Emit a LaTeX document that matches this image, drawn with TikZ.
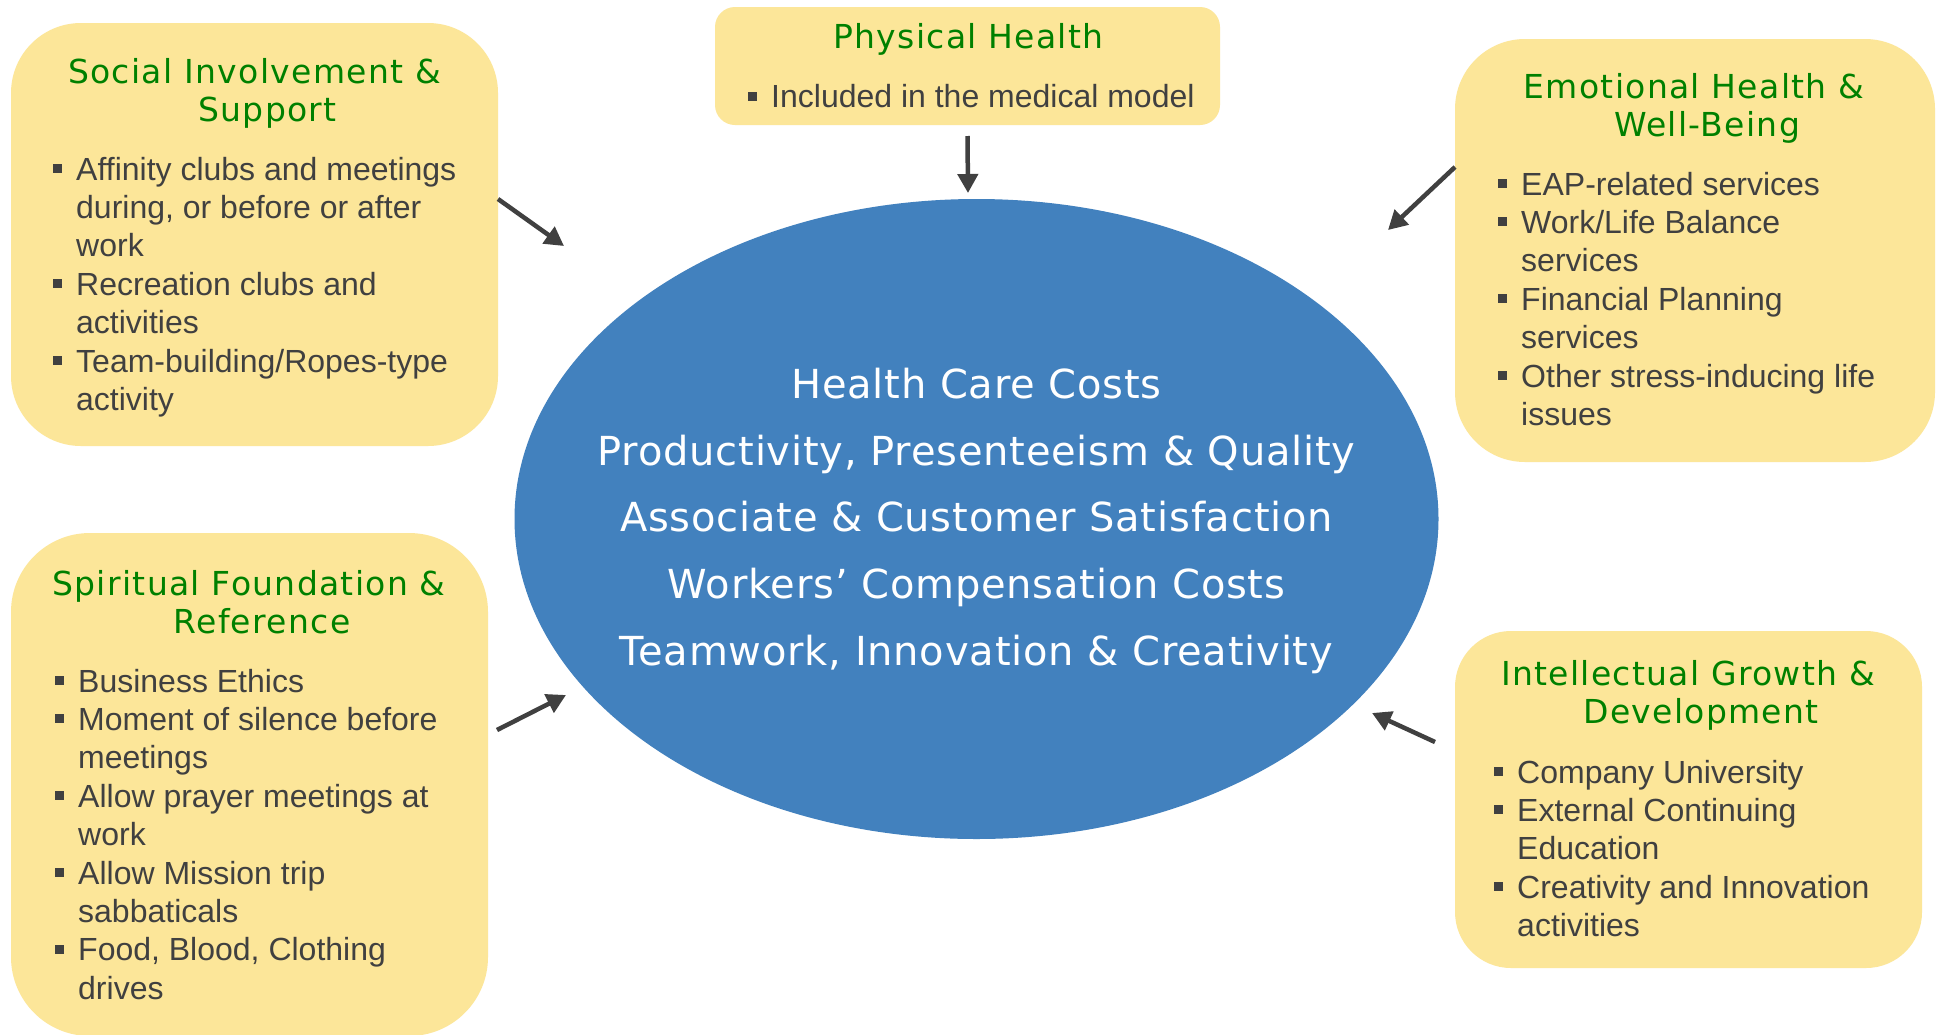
\documentclass[tikz,border=0pt]{standalone}
\usepackage{fontspec}
\usetikzlibrary{arrows.meta,shapes.geometric,calc}
\newfontfamily\bodyfont{Liberation Sans}
\newfontfamily\headfont{DejaVu Sans}[LetterSpace=4.0]
\newfontfamily\corefont{DejaVu Sans}[LetterSpace=2.0]
\definecolor{boxfill}{RGB}{252,230,153}
\definecolor{coreblue}{RGB}{66,129,190}
\definecolor{headgreen}{RGB}{0,128,0}
\definecolor{inkgrey}{RGB}{64,64,64}
% square bullet hung to the left of an item line
\newcommand\sqbul{\llap{\rule[7pt]{9pt}{9pt}\hspace{14pt}}}
% second heading line sits a little right of centre
\newcommand\wrapln{\\\hspace*{26pt}}
% multi-line nodes sit on the baseline of their last line
\tikzset{
  panel/.style={fill=boxfill, draw=none, inner sep=0pt, outer sep=0pt},
  heading/.style={anchor=base, align=center, text=headgreen, inner sep=0pt,
    font={\headfont\fontsize{33}{38}\selectfont}},
  items/.style={anchor=base west, align=left, text=inkgrey, inner sep=0pt,
    font={\bodyfont\fontsize{32}{38.4}\selectfont}},
  flow/.style={draw=inkgrey, line width=4.5pt,
    -{Triangle[length=19pt,width=20pt]}},
}
\begin{document}
\begin{tikzpicture}[x=1pt,y=-1pt]
\useasboundingbox (0,0) rectangle (1940,1034);
\clip (0,0) rectangle (1940,1034);
\fill[white] (0,0) rectangle (1940,1034);

% outcome ellipse
\node[ellipse, fill=coreblue, inner sep=0pt, minimum width=924pt, minimum height=640pt] (core) at (976.5,519) {};
\node[anchor=base, align=center, text=white, inner sep=0pt,
      font={\corefont\fontsize{40}{66.8}\selectfont}] (coretxt) at (976.5,665.5)
  {Health Care Costs\\
   Productivity, Presenteeism \& Quality\\
   Associate \& Customer Satisfaction\\
   Workers’ Compensation Costs\\
   Teamwork, Innovation \& Creativity};

% Social Involvement & Support
\node[panel, minimum width=487pt, minimum height=423pt, rounded corners=70pt] (soc) at (254.5,234.5) {};
\node[heading] (soch) at (254.5,121) {Social Involvement \&\wrapln Support};
\node[items] (socl) at (76,410.4)
  {\sqbul Affinity clubs and meetings\\
   during, or before or after\\
   work\\
   \sqbul Recreation clubs and\\
   activities\\
   \sqbul Team-building/Ropes-type\\
   activity};

% Physical Health
\node[panel, minimum width=505pt, minimum height=118pt, rounded corners=20pt] (phys) at (967.5,66) {};
\node[heading] (physh) at (968.5,48.5) {Physical Health};
\node[items] (physl) at (771,107.5) {\sqbul Included in the medical model};

% Emotional Health & Well-Being
\node[panel, minimum width=480pt, minimum height=423pt, rounded corners=70pt] (emo) at (1695,250.5) {};
\node[heading] (emoh) at (1694,136) {Emotional Health \&\wrapln Well-Being};
\node[items] (emol) at (1521,425.4)
  {\sqbul EAP-related services\\
   \sqbul Work/Life Balance\\
   services\\
   \sqbul Financial Planning\\
   services\\
   \sqbul Other stress-inducing life\\
   issues};

% Spiritual Foundation & Reference
\node[panel, minimum width=477pt, minimum height=503pt, rounded corners=79pt] (spi) at (249.5,784.5) {};
\node[heading] (spih) at (249,633) {Spiritual Foundation \&\wrapln Reference};
\node[items] (spil) at (78,999.2)
  {\sqbul Business Ethics\\
   \sqbul Moment of silence before\\
   meetings\\
   \sqbul Allow prayer meetings at\\
   work\\
   \sqbul Allow Mission trip\\
   sabbaticals\\
   \sqbul Food, Blood, Clothing\\
   drives};

% Intellectual Growth & Development
\node[panel, minimum width=467pt, minimum height=337pt, rounded corners=56pt] (int) at (1688.5,799.5) {};
\node[heading] (inth) at (1688,723) {Intellectual Growth \&\wrapln Development};
\node[items] (intl) at (1517,936.6)
  {\sqbul Company University\\
   \sqbul External Continuing\\
   Education\\
   \sqbul Creativity and Innovation\\
   activities};

% arrow tips, just short of the ellipse
\coordinate (socT) at (564,246);
\coordinate (physT) at (968,193);
\coordinate (emoT) at (1388,230);
\coordinate (spiT) at (566,695);
\coordinate (intT) at (1372,713);

\draw[flow] (soc.east |- 0,199) -- (socT);
\draw[flow] ($(phys.south)+(0,11)$) -- (physT);
\draw[flow] (emo.west |- 0,167) -- (emoT);
\draw[flow] ($(spi.east |- 0,730)+(9,0)$) -- (spiT);
\draw[flow] ($(int.west |- 0,742)+(-20,0)$) -- (intT);
\end{tikzpicture}
\end{document}
